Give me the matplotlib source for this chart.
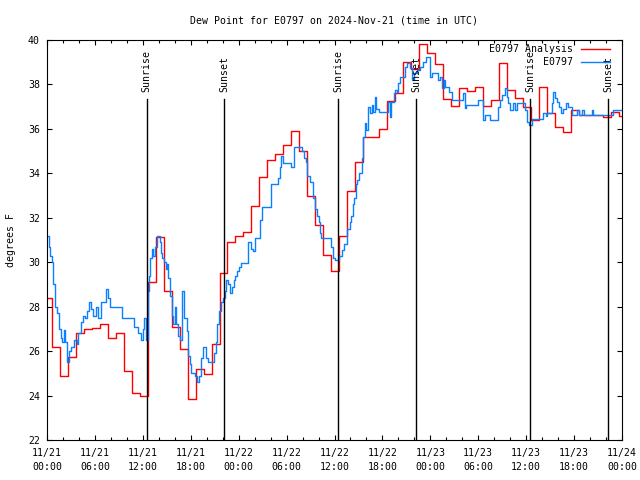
import numpy as np
import matplotlib
matplotlib.use('Agg')
import matplotlib.pyplot as plt
import matplotlib.transforms as mtransforms

# hours since 11/21 00:00 UTC
title = "Dew Point for E0797 on 2024-Nov-21 (time in UTC)"

# analysis: one value per hour, each step starts at k - 0.4 h
analysis_vals = [28.4, 26.2, 24.9, 25.75, 26.8, 27.0, 27.05, 27.2, 26.6, 26.8,
                 25.1, 24.1, 24.0, 29.1, 31.15, 28.7, 27.1, 26.1, 23.85, 25.2,
                 24.95, 26.3, 29.5, 30.9, 31.2, 31.37, 32.53, 33.85, 34.6, 34.87,
                 35.28, 35.9, 35.0, 32.98, 31.68, 30.33, 29.6, 31.2, 33.2, 34.5,
                 35.65, 35.62, 36.0, 37.27, 37.6, 39.0, 38.7, 39.8, 39.4, 38.92,
                 37.33, 37.03, 37.83, 37.72, 37.87, 37.03, 37.3, 38.95, 37.75, 37.4,
                 36.97, 36.4, 37.87, 36.7, 36.07, 35.88, 36.85, 36.63, 36.63, 36.63,
                 36.55, 36.75, 36.6]

# station obs (hours, deg F)
obs_hours = [0.0, 0.25, 0.4, 0.6, 0.8, 1.0, 1.2, 1.45, 1.7, 1.9, 2.15, 2.3, 2.5, 2.7,
             3.0, 3.4, 3.7, 3.9, 4.3, 4.5, 4.75, 5.0, 5.3, 5.5, 5.8, 6.1, 6.4, 6.7,
             7.4, 7.6, 7.9, 9.4, 10.9, 11.4, 11.8, 12.0, 12.2, 12.35, 12.6, 12.75,
             12.95, 13.1, 13.3, 13.5, 13.75, 14.1, 14.25, 14.4, 14.7, 14.95, 15.05,
             15.2, 15.4, 15.6, 15.8, 16.0, 16.15, 16.45, 16.65, 16.95, 17.15, 17.5,
             17.7, 17.85, 18.0, 18.5, 18.8, 19.05, 19.25, 19.5, 19.9, 20.2, 20.9,
             21.15, 21.3, 21.55, 21.75, 22.05, 22.3, 22.45, 22.7, 22.95, 23.2, 23.4,
             23.6, 23.8, 24.0, 24.3, 25.2, 25.5, 25.85, 26.05, 26.7, 26.9, 28.1,
             28.9, 29.2, 29.35, 29.5, 30.6, 30.9, 31.9, 32.2, 32.45, 32.6, 32.9,
             33.3, 33.55, 33.8, 34.0, 34.2, 34.3, 35.5, 35.8, 36.0, 36.6, 36.9,
             37.2, 37.6, 37.9, 38.1, 38.3, 38.45, 38.7, 38.85, 39.1, 39.4, 39.6,
             39.8, 40.0, 40.2, 40.45, 40.65, 40.85, 41.05, 41.25, 41.6, 42.75,
             42.9, 43.05, 43.4, 43.6, 43.8, 44.0, 44.2, 44.8, 45.05, 45.4, 45.7,
             45.9, 46.3, 46.7, 47.1, 47.5, 47.95, 48.2, 49.0, 49.2, 49.4, 49.65,
             49.85, 50.3, 50.7, 52.15, 52.35, 52.5, 54.0, 54.65, 54.85, 55.5, 56.5,
             56.7, 56.95, 57.35, 57.55, 57.75, 57.95, 58.4, 58.6, 58.8, 59.85,
             60.05, 60.3, 60.7, 62.15, 62.45, 62.6, 63.2, 63.4, 63.6, 63.9, 64.1,
             64.4, 64.6, 65.05, 65.3, 65.7, 66.35, 66.6, 67.0, 67.2, 68.2, 68.4,
             70.9, 72.0]
obs_vals = [31.2, 30.7, 30.3, 30.0, 29.0, 28.0, 27.7, 27.0, 26.6, 26.4, 26.95, 26.4,
            25.5, 26.0, 26.2, 26.5, 26.3, 26.8, 27.3, 27.6, 27.5, 27.8, 28.2, 27.9,
            27.6, 28.0, 27.5, 28.2, 28.8, 28.4, 28.0, 27.5, 27.1, 26.8, 26.5, 27.0,
            27.5, 26.5, 28.7, 29.4, 30.2, 30.6, 30.3, 30.7, 31.2, 30.9, 30.4, 30.2,
            30.0, 29.7, 29.9, 29.3, 28.5, 27.6, 27.2, 28.0, 27.2, 26.7, 26.5, 28.7,
            27.5, 26.9, 25.8, 25.4, 25.0, 24.9, 24.6, 24.9, 25.7, 26.2, 25.7, 25.5,
            25.9, 26.4, 27.2, 27.8, 28.2, 28.4, 28.7, 29.2, 29.0, 28.6, 28.9, 29.2,
            29.4, 29.6, 29.8, 29.95, 30.9, 30.6, 30.5, 31.1, 31.9, 32.5, 33.5, 33.8,
            34.3, 34.8, 34.45, 34.3, 35.2, 35.0, 34.7, 34.5, 33.9, 33.6, 32.9, 32.4,
            32.1, 31.8, 31.3, 31.1, 30.7, 30.2, 30.1, 30.3, 30.55, 30.8, 31.5, 31.8,
            32.1, 32.6, 32.9, 33.5, 33.7, 34.0, 34.7, 35.65, 36.25, 35.95, 37.0,
            36.7, 37.08, 36.78, 37.45, 36.9, 36.78, 37.23, 36.55, 37.23, 37.6,
            37.75, 37.68, 38.05, 38.35, 38.8, 38.95, 38.73, 38.2, 38.5, 38.65, 38.8,
            39.03, 39.25, 38.35, 38.5, 38.2, 38.35, 37.83, 38.2, 37.9, 37.68, 37.3,
            37.6, 36.93, 37.08, 37.3, 36.4, 36.63, 36.4, 37.0, 37.3, 37.53, 37.83,
            37.45, 37.15, 36.85, 37.15, 36.85, 37.15, 36.85, 36.3, 36.18, 36.45,
            36.7, 36.6, 36.7, 37.15, 37.67, 37.4, 37.2, 37.0, 36.7, 36.9, 37.15,
            37.0, 36.63, 36.85, 36.63, 36.85, 36.63, 36.85, 36.63, 36.85, 36.85]

sunrise_hours = [12.48, 36.49, 60.5]
sunset_hours = [22.2, 46.25, 70.25]

xtick_labels = ["11/21\n00:00", "11/21\n06:00", "11/21\n12:00", "11/21\n18:00",
                "11/22\n00:00", "11/22\n06:00", "11/22\n12:00", "11/22\n18:00",
                "11/23\n00:00", "11/23\n06:00", "11/23\n12:00", "11/23\n18:00",
                "11/24\n00:00"]

FONT = 'DejaVu Sans Mono'
FS = 7.1
plt.rcParams['font.family'] = FONT
plt.rcParams['font.size'] = FS

fig = plt.figure(figsize=(6.4, 4.8), dpi=100)
ax = fig.add_axes([47 / 640, 40 / 480, 575 / 640, 400 / 480])

# analysis steps
a_start = np.arange(len(analysis_vals)) - 0.4
a_x = np.append(a_start, 72.0)
a_y = np.append(analysis_vals, analysis_vals[-1])
ax.step(a_x, a_y, where='post', color='#ff0000', lw=1.0, label='E0797 Analysis')

ax.step(obs_hours, obs_vals, where='post', color='#0a80ff', lw=1.0, label='E0797')

# sunrise / sunset markers
trans = mtransforms.blended_transform_factory(ax.transData, ax.transAxes)
for name, hours in (("Sunrise", sunrise_hours), ("Sunset", sunset_hours)):
    for h in hours:
        ax.axvline(h, ymin=0, ymax=0.852, color='black', lw=1.0)
        ax.text(h, 0.871, name, rotation=90, ha='center', va='bottom',
                transform=trans, fontsize=FS)

ax.set_xlim(0, 72)
ax.set_ylim(22, 40)
ax.set_xticks(np.arange(0, 73, 6))
ax.set_xticklabels(xtick_labels, linespacing=1.45)
ax.set_xticks(np.arange(0, 73, 2), minor=True)
ax.set_yticks(np.arange(22, 41, 2))

ax.tick_params(axis='both', which='both', direction='in', top=True, right=True,
               width=0.8, colors='black')
ax.tick_params(axis='x', which='major', length=3.6, pad=6)
ax.tick_params(axis='x', which='minor', length=2.2)
ax.tick_params(axis='y', which='major', length=3.3, pad=5)
for sp in ax.spines.values():
    sp.set_linewidth(0.8)

ax.set_title(title, fontsize=FS, pad=12)
ax.set_ylabel("degrees F", fontsize=FS, labelpad=9)

ax.legend(loc='upper right', bbox_to_anchor=(0.979, 0.99), frameon=False,
          markerfirst=False, handlelength=2.9, handletextpad=0.8,
          labelspacing=0.3, borderpad=0, borderaxespad=0, fontsize=FS)

fig.savefig('out.png', dpi=100)
